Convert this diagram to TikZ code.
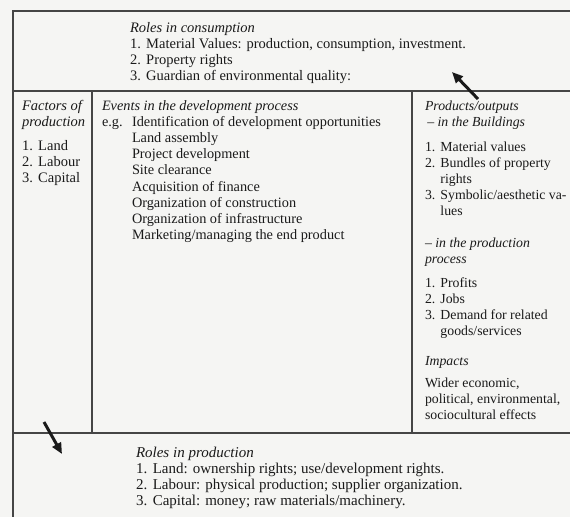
\documentclass[tikz,border=0pt]{standalone}
\usepackage{fontspec}
\setmainfont{Liberation Serif}
\usetikzlibrary{arrows.meta}
\definecolor{paper}{HTML}{F5F5F3}
\definecolor{rulegray}{HTML}{454545}
\definecolor{ink}{HTML}{1A1A1A}
% number box for list items, and a strut that fixes the first line's top
\newcommand{\itm}[1]{\makebox[1.12em][l]{#1}}
\newcommand{\topstrut}{\rule{0pt}{10pt}}

\begin{document}
\begin{tikzpicture}[x=1pt,y=-1pt,
  frame/.style={draw=rulegray,line width=1.2pt},
  txt/.style={anchor=north west,inner sep=0pt,outer sep=0pt,text=ink,
    font=\fontsize{14.5}{16}\selectfont,align=left},
  pointer/.style={draw=ink,line width=3pt,-{Triangle[length=11pt,width=9.5pt]}}]

% page
\fill[paper] (0,0) rectangle (570,517);
\useasboundingbox (0,0) rectangle (570,517);

% table rules
\draw[frame] (570,11) -- (13,11) -- (13,517);
\draw[frame] (13,91) -- (570,91);
\draw[frame] (13,433) -- (570,433);
\draw[frame] (92,91) -- (92,433);
\draw[frame] (412,91) -- (412,433);

% roles in consumption
\node[txt] (consumption) at (130,22) {\topstrut\textit{Roles in consumption}\\
  \itm{1.}Material Values: production, consumption, investment.\\
  \itm{2.}Property rights\\
  \itm{3.}Guardian of environmental quality:};

% factors of production
\node[txt] (factors) at (22,100) {\topstrut\textit{Factors of}\\
  \textit{production}\\[8.5pt]
  \itm{1.}Land\\
  \itm{2.}Labour\\
  \itm{3.}Capital};

% events in the development process
\node[txt,font=\fontsize{14.3}{16.2}\selectfont] (events) at (102,100)
  {\topstrut\textit{Events in the development process}\\
  \makebox[30pt][l]{e.g.}Identification of development opportunities\\
  \hspace*{30pt}Land assembly\\
  \hspace*{30pt}Project development\\
  \hspace*{30pt}Site clearance\\
  \hspace*{30pt}Acquisition of finance\\
  \hspace*{30pt}Organization of construction\\
  \hspace*{30pt}Organization of infrastructure\\
  \hspace*{30pt}Marketing/managing the end product};

% products and outputs
\node[txt,font=\fontsize{13.8}{16}\selectfont] (products) at (425,100)
  {\topstrut\textit{Products/outputs}\\
  \textit{\,-- in the Buildings}\\[9.5pt]
  \itm{1.}Material values\\
  \itm{2.}Bundles of property\\
  \itm{}rights\\
  \itm{3.}Symbolic/aesthetic va-\\
  \itm{}lues\\[16pt]
  \textit{-- in the production}\\
  \textit{process}\\[7.5pt]
  \itm{1.}Profits\\
  \itm{2.}Jobs\\
  \itm{3.}Demand for related\\
  \itm{}goods/services\\[14pt]
  \textit{Impacts}\\[6pt]
  Wider economic,\\
  political, environmental,\\
  sociocultural effects};

% roles in production
\node[txt,font=\fontsize{15}{16}\selectfont] (production) at (136,447)
  {\topstrut\textit{Roles in production}\\
  \itm{1.}Land: ownership rights; use/development rights.\\
  \itm{2.}Labour: physical production; supplier organization.\\
  \itm{3.}Capital: money; raw materials/machinery.};

% pointers between the bands
\coordinate (upTail) at (478,99);
\coordinate (upHead) at (452,72);
\draw[pointer] (upTail) -- (upHead);
\coordinate (downTail) at (44,422);
\coordinate (downHead) at (62,454);
\draw[pointer] (downTail) -- (downHead);
\end{tikzpicture}
\end{document}
